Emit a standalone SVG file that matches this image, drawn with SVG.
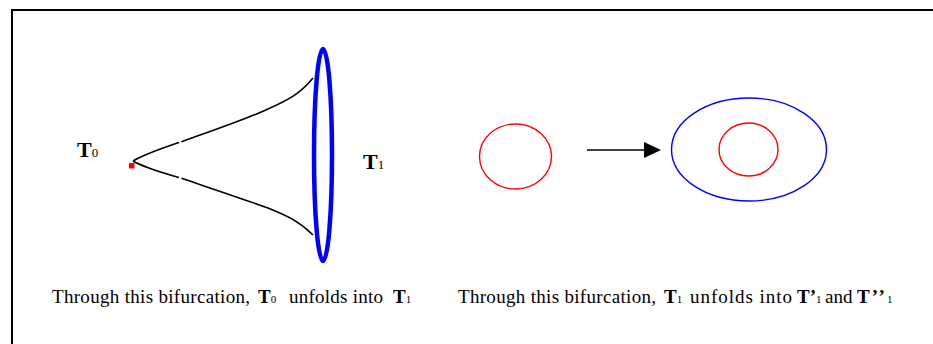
<svg xmlns="http://www.w3.org/2000/svg" width="933" height="344" viewBox="0 0 933 344">
<style>
.txt{font-family:"Liberation Serif","Times New Roman",serif;font-size:19px;fill:#000}
.b{font-weight:bold}
.sub{font-size:11px;font-weight:normal}
.curve{fill:none;stroke:#000;stroke-width:1.6}
</style>
<rect x="0" y="0" width="933" height="344" fill="#fff"/>
<path d="M12,344 V10 H933" fill="none" stroke="#000" stroke-width="2"/>
<g id="T0">
<rect x="129" y="163" width="5.5" height="5.5" fill="#f00"/>
<text class="txt b" x="77" y="157" style="font-size:22px">T<tspan class="sub" style="font-size:13px">0</tspan></text>
</g>
<g id="T1">
<ellipse cx="323" cy="155" rx="9" ry="106" fill="none" stroke="#00f" stroke-width="4.5"/>
<text class="txt b" x="363" y="169" style="font-size:22px">T<tspan class="sub" style="font-size:13px">1</tspan></text>
</g>
<g id="left-circle">
<ellipse cx="515.5" cy="156.5" rx="36" ry="32.5" fill="none" stroke="#f00" stroke-width="1.4"/>
</g>
<g id="right-tori">
<ellipse cx="749" cy="149.5" rx="77.5" ry="51.5" fill="none" stroke="#00f" stroke-width="1.4"/>
<ellipse cx="748.5" cy="149.5" rx="29.5" ry="26.5" fill="none" stroke="#f00" stroke-width="1.4"/>
</g>
<g id="connectors">
<path class="curve" d="M133,161 C145,154 160,149 179,142.5"/>
<path class="curve" d="M181.5,141.7 C210,131 240,122 268,109 C288,100 300,94 313,78"/>
<path class="curve" d="M133,161 C145,168 160,172 179,177.5"/>
<path class="curve" d="M181.5,178.3 C210,188 240,198 268,208 C288,216 300,222 313,235"/>
<line x1="587" y1="150" x2="652" y2="150" stroke="#000" stroke-width="1.5"/>
<path d="M644,142 L661,150 L644,158 Z" fill="#000"/>
</g>
<g id="captions">
<text class="txt" y="303"><tspan x="52" textLength="198" lengthAdjust="spacing">Through this bifurcation,</tspan><tspan x="258" class="b">T</tspan><tspan class="sub">0</tspan><tspan x="289" textLength="94" lengthAdjust="spacing">unfolds into</tspan><tspan x="393" class="b">T</tspan><tspan class="sub">1</tspan></text>
<text class="txt" y="303"><tspan x="458" textLength="198" lengthAdjust="spacing">Through this bifurcation,</tspan><tspan x="664" class="b">T</tspan><tspan class="sub">1</tspan><tspan x="690" textLength="102" lengthAdjust="spacing">unfolds into</tspan><tspan x="797" class="b">T’</tspan><tspan class="sub">1</tspan><tspan x="825">and</tspan><tspan x="857" class="b" letter-spacing="2">T’’</tspan><tspan class="sub">1</tspan></text>
</g>
</svg>
